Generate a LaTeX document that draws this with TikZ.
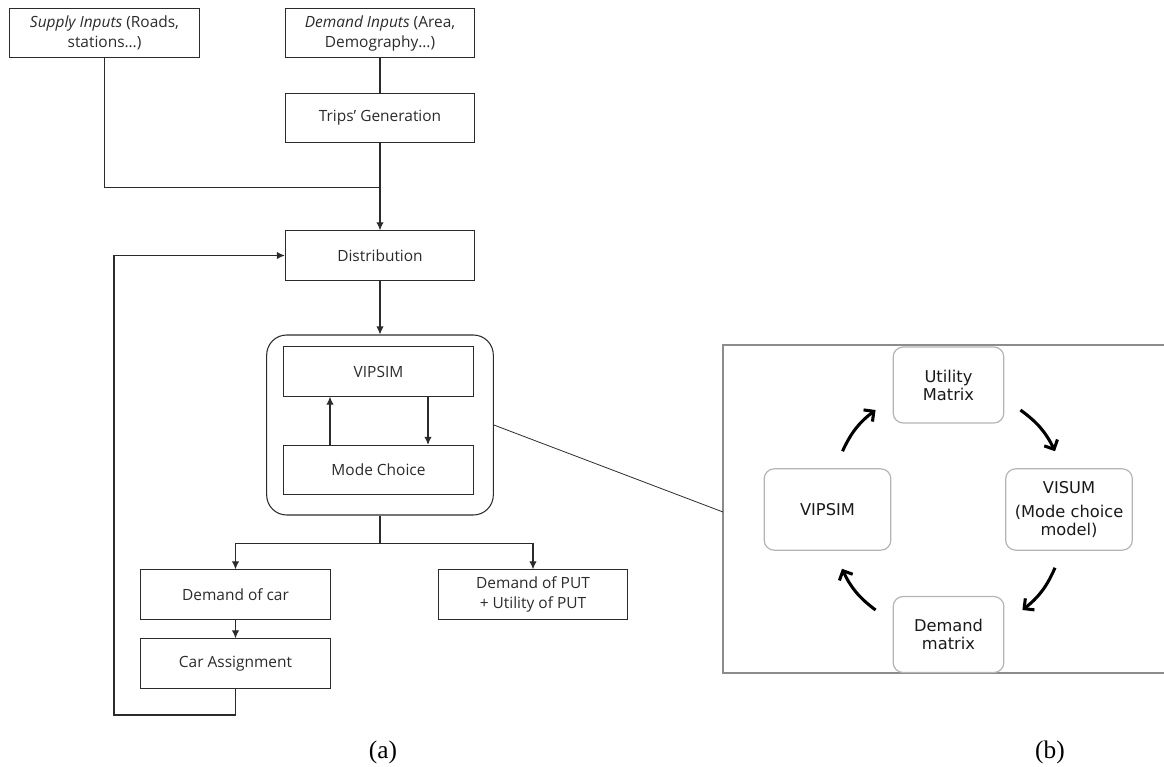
\documentclass[tikz,border=0pt]{standalone}
\usepackage{fontspec}
\setmainfont{Open Sans}
\newfontfamily\cyclefont{DejaVu Sans}
\newfontfamily\captionfont{Liberation Serif}
\usetikzlibrary{arrows.meta,calc}

\definecolor{inkgray}{HTML}{2B2B2B}
\definecolor{framegray}{HTML}{8C8C8C}
\definecolor{cyclegray}{HTML}{B4B4B4}

\tikzset{
  stepbox/.style={draw=inkgray, line width=0.8pt, minimum width=142pt, minimum height=37pt,
    align=center, inner sep=1pt, text=inkgray, font=\fontsize{11.6}{15}\selectfont},
  cyclebox/.style={draw=cyclegray, line width=0.9pt, rounded corners=7.5pt, align=center,
    inner sep=1pt, text=black!90, font=\cyclefont\fontsize{12.2}{13.5}\selectfont},
  cyclearrow/.style={line width=2.3pt, -{Straight Barb[length=5.5pt,width=11pt]}, bend left=14},
  caption/.style={font=\captionfont\fontsize{19}{22}\selectfont}
}

\begin{document}
\begin{tikzpicture}[>={Latex[length=6pt,width=5.5pt]}, x=0.75pt, y=-0.75pt, line width=0.8pt]
    \useasboundingbox (0,0) rectangle (1164,767);

    % (a) Inputs
    \node[stepbox] (supply) at (104.5,33) {\textit{Supply Inputs} (Roads,\\stations…)};
    \node[stepbox] (demand) at (380,33) {\textit{Demand Inputs} (Area,\\Demography…)};
    \node[stepbox] (trips) at (380,118) {Trips’ Generation};
    \node[stepbox] (dist) at (380,255.5) {Distribution};

    % (a) Mode choice loop
    \node[draw=inkgray, rounded corners=15pt, minimum width=170pt, minimum height=135pt] (choice) at (380,425) {};
    \node[stepbox] (vipsim) at (378.5,371.5) {VIPSIM};
    \node[stepbox] (mode) at (378.5,470) {Mode Choice};

    % (a) Outputs
    \node[stepbox] (car) at (235.5,594.5) {Demand of car};
    \node[stepbox] (assign) at (235.5,663.5) {Car Assignment};
    \node[stepbox] (put) at (533,594.5) {Demand of PUT\\+ Utility of PUT};

    % (a) Connectors
    \coordinate (merge) at ($(trips.south)+(0,44)$);
    \coordinate (back) at (114,715);
    \draw[inkgray] (demand) -- (trips);
    \draw[inkgray] (supply) |- (merge);
    \draw[inkgray, ->] (trips) -- (dist);
    \draw[inkgray, ->] (dist) -- (choice);
    \draw[inkgray, ->] ($(mode.north)+(-48.5,0)$) -- ($(vipsim.south)+(-48.5,0)$);
    \draw[inkgray, ->] ($(vipsim.south)+(49.5,0)$) -- ($(mode.north)+(49.5,0)$);
    \draw[inkgray] (choice.south) -- ++(0,28) coordinate (split);
    \draw[inkgray, ->] (split) -| (car);
    \draw[inkgray, ->] (split) -| (put);
    \draw[inkgray, ->] (car) -- (assign);
    \draw[inkgray, ->] (assign) |- (back) |- (dist);

    % (b) Zoom of the loop
    \coordinate (zoomin) at (723,512);
    \draw[framegray] (1164,345) -| (723,673) -- (1164,673);
    \draw[inkgray, line width=0.6pt] (choice.east) -- (zoomin);

    \node[cyclebox, minimum width=83pt, minimum height=57pt] (util) at (948.5,385) {Utility\\Matrix};
    \node[cyclebox, minimum width=95pt, minimum height=61pt] (vipsimb) at (827.5,509.5) {VIPSIM};
    \node[cyclebox, minimum width=95pt, minimum height=61pt] (visum) at (1069,509.5) {VISUM\\[4pt](Mode choice\\model)};
    \node[cyclebox, minimum width=83pt, minimum height=57pt] (dmat) at (948.5,634.5) {Demand\\matrix};

    \draw[cyclearrow] ($(vipsimb.north)+(15,-17)$) to ($(util.west)+(-17,25)$);
    \draw[cyclearrow] ($(util.east)+(16,25)$) to ($(visum.north)+(-14,-17)$);
    \draw[cyclearrow] ($(visum.south)+(-14,17)$) to ($(dmat.east)+(18,-24.5)$);
    \draw[cyclearrow] ($(dmat.west)+(-17,-24.5)$) to ($(vipsimb.south)+(14.5,18)$);

    % Captions
    \node[caption] (capa) at (383,752) {(a)};
    \node[caption] (capb) at (1050,752) {(b)};
\end{tikzpicture}
\end{document}
